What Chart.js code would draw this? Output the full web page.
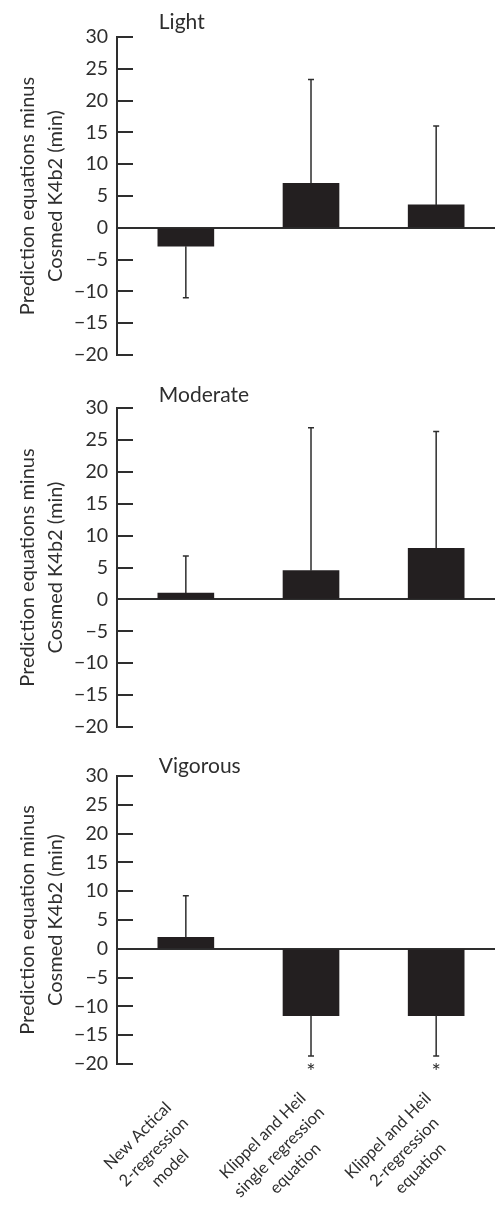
<!DOCTYPE html>
<html>
<head>
<meta charset="utf-8">
<script src="https://cdn.jsdelivr.net/npm/chart.js@4"></script>
<style>
  html, body { margin: 0; padding: 0; background: #fff; }
  .panel { position: absolute; left: 0; }
  canvas { display: block; }
</style>
</head>
<body>
<div class="panel" style="top:0"><canvas id="lightChart" width="495" height="380"></canvas></div>
<div class="panel" style="top:380px"><canvas id="moderateChart" width="495" height="370"></canvas></div>
<div class="panel" style="top:750px"><canvas id="vigorousChart" width="495" height="457"></canvas></div>
<script>
// Mean difference (prediction minus Cosmed K4b2, min) and SD for each method
const methods = [
    ['New Actical', '2-regression', 'model'],
    ['Klippel and Heil', 'single regression', 'equation'],
    ['Klippel and Heil', '2-regression', 'equation'],
];
const lightMeans = [-2.9, 7.0, 3.6];
const lightSD = [8.1, 16.3, 12.4];
const moderateMeans = [1.0, 4.5, 8.0];
const moderateSD = [5.8, 22.4, 18.3];
const vigorousMeans = [2.0, -11.6, -11.6];
const vigorousSD = [7.2, 7.0, 7.0];
const vigorousSignificant = [false, true, true];
const yTicks = [30, 25, 20, 15, 10, 5, 0, -5, -10, -15, -20];

const FONT = 'Lato, "Open Sans", sans-serif';
const INK = '#2e2e2e';
const BAR = '#231f20';

// error bars, inward tick marks, panel heading, asterisks and method labels
const panelExtras = {
    id: 'panelExtras',
    afterDraw(chart, args, opts) {
        const ctx = chart.ctx;
        const area = chart.chartArea;
        const xs = chart.scales.x;
        const ys = chart.scales.y;
        const meta = chart.getDatasetMeta(0);
        ctx.save();

        // tick marks pointing into the plot
        ctx.strokeStyle = INK;
        ctx.lineWidth = 2;
        ys.ticks.forEach(t => {
            const y = Math.round(ys.getPixelForValue(t.value));
            ctx.beginPath();
            ctx.moveTo(area.left, y);
            ctx.lineTo(area.left + 16, y);
            ctx.stroke();
        });

        // one-sided SD whiskers
        ctx.lineWidth = 1.5;
        meta.data.forEach((bar, i) => {
            const m = opts.means[i];
            const end = m >= 0 ? m + opts.sd[i] : m - opts.sd[i];
            const y0 = ys.getPixelForValue(m);
            const y1 = ys.getPixelForValue(end);
            ctx.beginPath();
            ctx.moveTo(bar.x, y0);
            ctx.lineTo(bar.x, y1);
            ctx.moveTo(bar.x - 3, y1);
            ctx.lineTo(bar.x + 3, y1);
            ctx.stroke();
            if (opts.significant && opts.significant[i]) {
                ctx.fillStyle = INK;
                ctx.font = '22px ' + FONT;
                ctx.textAlign = 'center';
                ctx.textBaseline = 'middle';
                ctx.fillText('*', bar.x, y1 + 16);
            }
        });

        // panel heading
        ctx.fillStyle = INK;
        ctx.font = '21px ' + FONT;
        ctx.textAlign = 'left';
        ctx.textBaseline = 'alphabetic';
        ctx.fillText(opts.title, xs.getPixelForValue(0) - 27, area.top + opts.titleDy);

        // rotated method names under the last panel
        if (opts.showLabels) {
            ctx.font = '16.5px ' + FONT;
            ctx.textAlign = 'center';
            ctx.textBaseline = 'middle';
            methods.forEach((lines, i) => {
                const cx = xs.getPixelForValue(i) - 32;
                const cy = area.bottom + 88;
                ctx.save();
                ctx.translate(cx, cy);
                ctx.rotate(-Math.PI / 4);
                lines.forEach((line, k) => {
                    ctx.fillText(line, 0, (k - (lines.length - 1) / 2) * 23);
                });
                ctx.restore();
            });
        }
        ctx.restore();
    }
};

function makePanel(id, means, sd, extras, yTitle, padding) {
    new Chart(document.getElementById(id), {
        type: 'bar',
        data: {
            datasets: [{
                data: means.map((v, i) => ({ x: i, y: v })),
                backgroundColor: BAR,
                borderWidth: 0,
                barThickness: 56,
            }],
        },
        options: {
            responsive: false,
            animation: false,
            layout: { padding: padding },
            plugins: {
                legend: { display: false },
                tooltip: { enabled: false },
                panelExtras: Object.assign({ means: means, sd: sd }, extras),
            },
            scales: {
                x: {
                    type: 'linear',
                    min: -0.55,
                    max: 2.47,
                    offset: false,
                    display: false,
                },
                y: {
                    min: yTicks[yTicks.length - 1],
                    max: yTicks[0],
                    afterBuildTicks: s => { s.ticks = yTicks.map(v => ({ value: v })); },
                    afterFit: s => { s.width = 117; },
                    border: { display: true, color: INK, width: 2 },
                    grid: {
                        drawTicks: false,
                        lineWidth: 2,
                        color: c => (c.tick && c.tick.value === 0 ? INK : 'rgba(0,0,0,0)'),
                    },
                    ticks: {
                        padding: 9,
                        color: INK,
                        font: { family: FONT, size: 19.5 },
                        callback: v => (v < 0 ? '\u2212' + Math.abs(v) : String(v)),
                    },
                    title: {
                        display: true,
                        text: yTitle,
                        color: INK,
                        font: { family: FONT, size: 20, lineHeight: 1.4 },
                        padding: { top: 14, bottom: 0 },
                    },
                },
            },
        },
        plugins: [panelExtras],
    });
}

makePanel('lightChart', lightMeans, lightSD,
    { title: 'Light', titleDy: -8 },
    ['Prediction equations minus', 'Cosmed K4b2 (min)'],
    { top: 37, bottom: 25, left: 0, right: 0 });

makePanel('moderateChart', moderateMeans, moderateSD,
    { title: 'Moderate', titleDy: -6 },
    ['Prediction equations minus', 'Cosmed K4b2 (min)'],
    { top: 28, bottom: 23, left: 0, right: 0 });

makePanel('vigorousChart', vigorousMeans, vigorousSD,
    { title: 'Vigorous', titleDy: -3, significant: vigorousSignificant, showLabels: true },
    ['Prediction equation minus', 'Cosmed K4b2 (min)'],
    { top: 26, bottom: 143, left: 0, right: 0 });
</script>
</body>
</html>
